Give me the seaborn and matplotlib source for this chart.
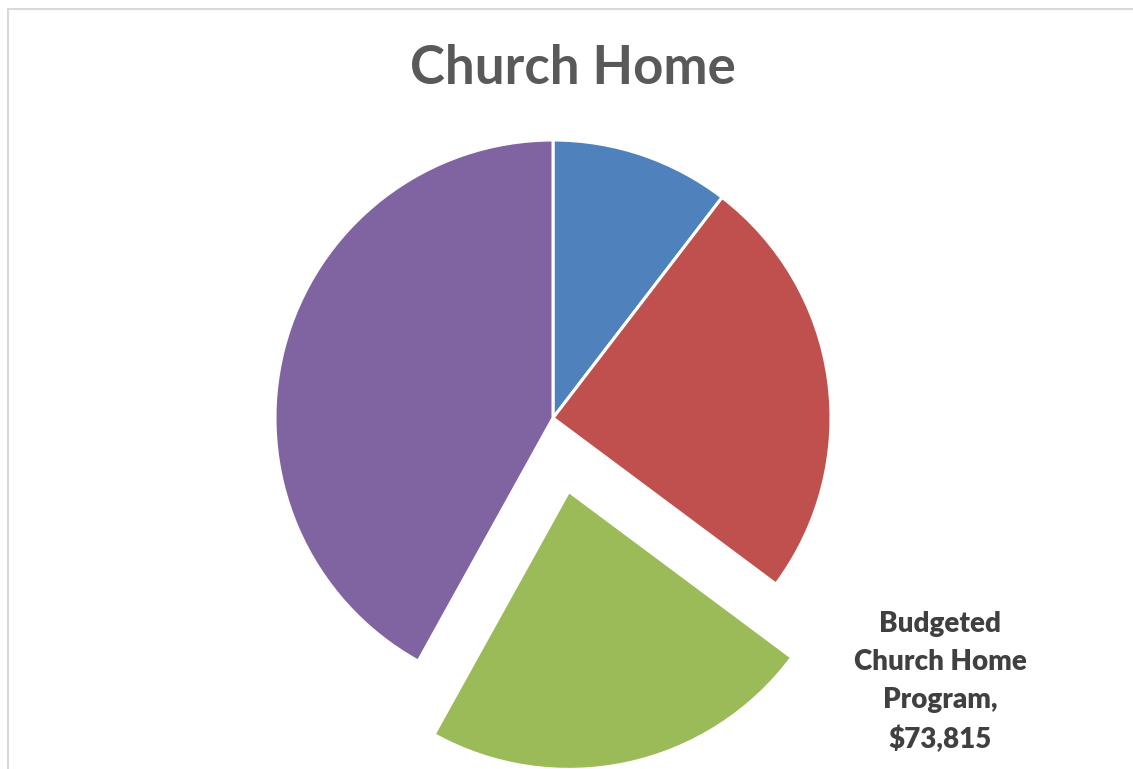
import matplotlib
matplotlib.use("Agg")
import matplotlib.pyplot as plt
import seaborn as sns
from matplotlib.patches import Rectangle

sns.set_theme(style="white")
plt.rcParams['font.family'] = ['Lato', 'DejaVu Sans']

# Data (only the green slice is labelled)
categories = ["Category A", "Category B", "Budgeted Church Home Program", "Category D"]
values = [33600, 80000, 73815, 135400]
colors = ["#4F81BD", "#C0504D", "#9BBB59", "#8064A2"]
explode = [0, 0, 0.27, 0]
title = "Church Home"

W, H = 1133, 769
fig = plt.figure(figsize=(W / 100, H / 100), dpi=100)
ax = fig.add_axes([0, 0, 1, 1])
cx, cy, r = 553, 418, 278

wedges, _ = ax.pie(values, colors=colors, explode=explode, startangle=90,
                   counterclock=False, radius=1,
                   wedgeprops=dict(edgecolor="white", linewidth=2.2))
ax.set_aspect("auto")
ax.set_xlim(-cx / r, (W - cx) / r)
ax.set_ylim(-(H - cy) / r, cy / r)
ax.axis("off")

# label for green slice
ax.text((940 - cx) / r, -(682 - cy) / r,
        f"Budgeted\nChurch Home\nProgram,\n${values[2]:,}",
        ha="center", va="center", fontsize=20, fontweight="heavy",
        color="#404040", linespacing=1.58)

fig.text(573 / W, 1 - 69 / H, title, ha="center", va="center",
         fontsize=38, fontweight="bold", color="#595959")

fig.patches.append(Rectangle((8 / W, -0.01), 1.1, 1 - 9 / H + 0.01,
                             transform=fig.transFigure, fill=False,
                             edgecolor="#D9D9D9", linewidth=1.5))

fig.savefig("out.png", dpi=100, facecolor="white")
